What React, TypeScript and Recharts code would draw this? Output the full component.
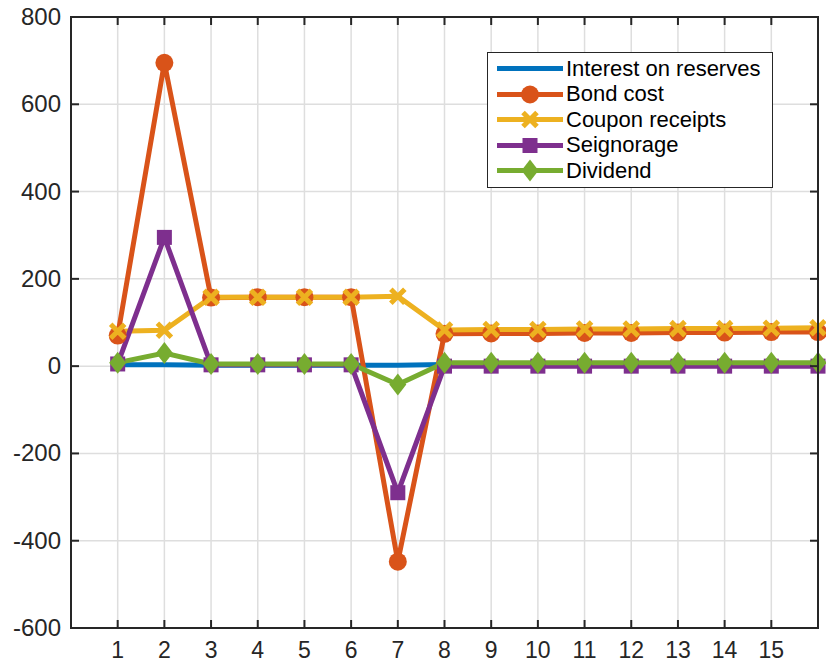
import React from 'react';
import { LineChart, Line, XAxis, YAxis, CartesianGrid } from 'recharts';

const PERIODS = [1, 2, 3, 4, 5, 6, 7, 8, 9, 10, 11, 12, 13, 14, 15, 16];
const X_TICKS = [1, 2, 3, 4, 5, 6, 7, 8, 9, 10, 11, 12, 13, 14, 15];
const Y_TICKS = [-600, -400, -200, 0, 200, 400, 600, 800];
const X_DOMAIN = [0, 16];
const Y_DOMAIN = [-600, 800];

const INTEREST = [3, 3, 2, 2, 2, 2, 2, 4, 4, 4, 4, 4, 4, 4, 4, 4];
const BOND_COST = [70, 695, 157, 158, 158, 158, -448, 74, 75, 75, 76, 76, 77, 77, 78, 78];
const COUPON = [80, 82, 158, 158, 158, 158, 160, 83, 84, 84, 85, 85, 86, 86, 87, 88];
const SEIGNORAGE = [5, 295, 3, 3, 3, 3, -290, 0, 0, 0, 0, 0, 0, 0, 0, 0];
const DIVIDEND = [8, 30, 5, 5, 5, 5, -42, 8, 8, 8, 8, 8, 8, 8, 8, 8];

const SERIES = [
    { key: 'interest', name: 'Interest on reserves', color: '#0072BD', marker: 'none' },
    { key: 'bond', name: 'Bond cost', color: '#D95319', marker: 'circle' },
    { key: 'coupon', name: 'Coupon receipts', color: '#EDB120', marker: 'x' },
    { key: 'seign', name: 'Seignorage', color: '#7E2F8E', marker: 'square' },
    { key: 'div', name: 'Dividend', color: '#77AC30', marker: 'diamond' },
];

const data = PERIODS.map((p, i) => ({
    t: p,
    interest: INTEREST[i],
    bond: BOND_COST[i],
    coupon: COUPON[i],
    seign: SEIGNORAGE[i],
    div: DIVIDEND[i],
}));

const FONT = '"Liberation Sans", Arial, Helvetica, sans-serif';
const AX = '#262626';
const LW = 5;
const W = 826;
const H = 665;
const Y_AXIS_W = 71;
const X_AXIS_H = 37;
const MARGIN = { top: 17, right: 8, left: 0, bottom: 0 };
const TICK = 8;

// plot box, derived from the layout above
const PLOT_L = MARGIN.left + Y_AXIS_W;
const PLOT_T = MARGIN.top;
const PLOT_R = W - MARGIN.right;
const PLOT_B = H - MARGIN.bottom - X_AXIS_H;

function Marker({ type, cx, cy, color }: { type: string; cx: number; cy: number; color: string }) {
    if (type === 'circle') return <circle cx={cx} cy={cy} r={9} fill={color} />;
    if (type === 'square') return <rect x={cx - 7.5} y={cy - 7.5} width={15} height={15} fill={color} />;
    if (type === 'diamond')
        return <polygon points={`${cx},${cy - 11} ${cx + 8.5},${cy} ${cx},${cy + 11} ${cx - 8.5},${cy}`} fill={color} />;
    if (type === 'x')
        return (
            <path d={`M${cx - 7},${cy - 7}L${cx + 7},${cy + 7}M${cx - 7},${cy + 7}L${cx + 7},${cy - 7}`}
                stroke={color} strokeWidth={5} />
        );
    return null;
}

const makeDot = (type: string, color: string) => (props: any) => {
    const { cx, cy, index } = props;
    if (cx == null || cy == null) return <g key={`e${index}`} />;
    return (
        <g key={`${type}-${index}`}>
            <Marker type={type} cx={cx} cy={cy} color={color} />
        </g>
    );
};

const BottomLabel = ({ x, y, payload }: any) => (
    <text x={x} y={y + 30} textAnchor="middle" fill={AX} fontSize={23} fontFamily={FONT}>{payload.value}</text>
);
const LeftLabel = ({ x, y, payload }: any) => (
    <text x={x - 10} y={y + 8} textAnchor="end" fill={AX} fontSize={24} fontFamily={FONT}>{payload.value}</text>
);

// box + inward tick marks on all four sides, drawn over the chart so nothing paints over them
function AxesFrame() {
    const px = (v: number) => PLOT_L + ((v - X_DOMAIN[0]) / (X_DOMAIN[1] - X_DOMAIN[0])) * (PLOT_R - PLOT_L);
    const py = (v: number) => PLOT_B - ((v - Y_DOMAIN[0]) / (Y_DOMAIN[1] - Y_DOMAIN[0])) * (PLOT_B - PLOT_T);
    return (
        <svg width={W} height={H} style={{ position: 'absolute', left: 0, top: 0, pointerEvents: 'none' }}>
            <g stroke={AX} strokeWidth={2} fill="none">
                <rect x={PLOT_L} y={PLOT_T} width={PLOT_R - PLOT_L} height={PLOT_B - PLOT_T} />
                {X_TICKS.map((v) => (
                    <g key={`x${v}`}>
                        <line x1={px(v)} x2={px(v)} y1={PLOT_B} y2={PLOT_B - TICK} />
                        <line x1={px(v)} x2={px(v)} y1={PLOT_T} y2={PLOT_T + TICK} />
                    </g>
                ))}
                {Y_TICKS.map((v) => (
                    <g key={`y${v}`}>
                        <line x1={PLOT_L} x2={PLOT_L + TICK} y1={py(v)} y2={py(v)} />
                        <line x1={PLOT_R} x2={PLOT_R - TICK} y1={py(v)} y2={py(v)} />
                    </g>
                ))}
            </g>
        </svg>
    );
}

function LegendBox() {
    return (
        <div style={{
            position: 'absolute', left: 487, top: 52, width: 286, height: 136,
            border: `1.5px solid ${AX}`, background: '#fff', fontFamily: FONT, boxSizing: 'border-box',
        }}>
            {SERIES.map((s, i) => (
                <div key={s.key} style={{ position: 'absolute', left: 0, top: 3 + i * 25.5, height: 25, display: 'flex', alignItems: 'center' }}>
                    <svg width={80} height={25} style={{ display: 'block' }}>
                        <line x1={9} x2={75} y1={12.5} y2={12.5} stroke={s.color} strokeWidth={LW} />
                        <Marker type={s.marker} cx={42} cy={12.5} color={s.color} />
                    </svg>
                    <span style={{ fontSize: 22, color: '#000', whiteSpace: 'nowrap', marginLeft: -2 }}>{s.name}</span>
                </div>
            ))}
        </div>
    );
}

export default function App() {
    return (
        <div style={{ position: 'absolute', left: 0, top: 0, width: W, height: H, background: '#fff' }}>
            <LineChart width={W} height={H} data={data} margin={MARGIN}>
                <CartesianGrid stroke="#dedede" strokeWidth={1.5} />
                <XAxis dataKey="t" type="number" domain={X_DOMAIN} ticks={X_TICKS} height={X_AXIS_H}
                    axisLine={false} tickLine={false} tickSize={0} tickMargin={0}
                    tick={<BottomLabel />} interval={0} />
                <YAxis type="number" domain={Y_DOMAIN} ticks={Y_TICKS} width={Y_AXIS_W}
                    axisLine={false} tickLine={false} tickSize={0} tickMargin={0}
                    tick={<LeftLabel />} interval={0} />
                {SERIES.map((s) => (
                    <Line key={s.key} dataKey={s.key} stroke={s.color} strokeWidth={LW} type="linear"
                        dot={s.marker === 'none' ? false : makeDot(s.marker, s.color)}
                        activeDot={false} isAnimationActive={false} />
                ))}
            </LineChart>
            <AxesFrame />
            <LegendBox />
        </div>
    );
}
